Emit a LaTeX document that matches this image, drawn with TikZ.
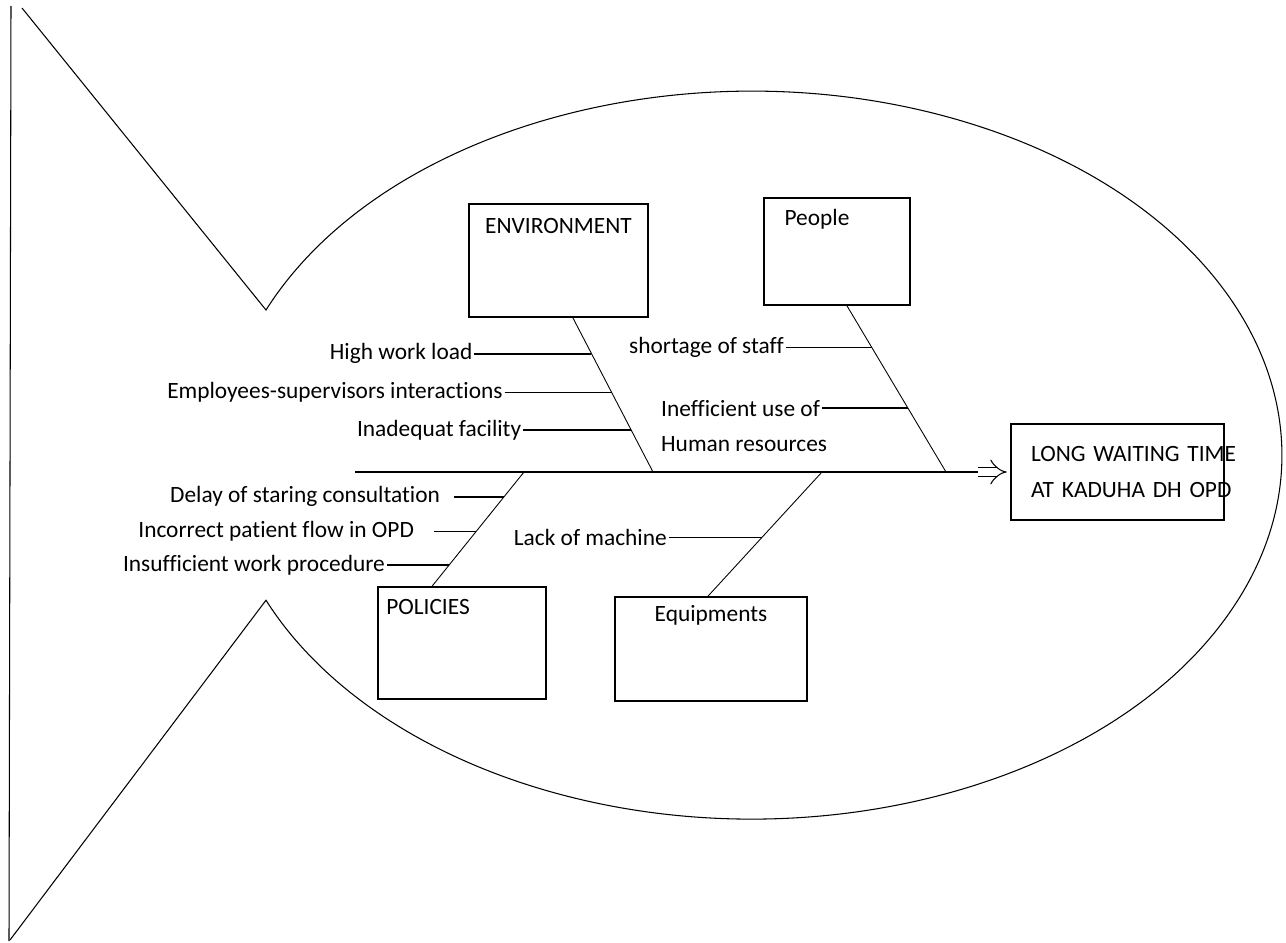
\documentclass[tikz,border=0pt]{standalone}
\usepackage{fontspec}
\setmainfont{Carlito}[Ligatures=NoCommon]
\usetikzlibrary{calc,arrows.meta}
\tikzset{
  catbox/.style={draw, line width=1pt, inner sep=0pt},
  boxtitle/.style={inner sep=0pt},
  cause/.style={inner sep=1pt},
  bone/.style={line width=0.5pt},
  rib/.style={line width=1pt},
  fishline/.style={line width=0.6pt},
}
\begin{document}
\begin{tikzpicture}[x=0.02cm, y=-0.02cm, font=\fontsize{13.3}{21}\selectfont]
      \useasboundingbox (0,0) rectangle (1286,943);
      \draw[fishline] (11,6) -- (9,941);
      \draw[fishline] (22,8) -- (266,310)
        arc[start angle=156.5, end angle=-156.5, x radius=10.6cm, y radius=7.28cm]
        -- (10,940);
      \node[catbox, minimum width=3.58cm, minimum height=2.26cm,
        label={[boxtitle, anchor=base, yshift=-17pt]north:ENVIRONMENT}] (env) at (558.5,260.5) {};
      \node[catbox, minimum width=2.92cm, minimum height=2.14cm,
        label={[boxtitle, anchor=base west, xshift=12pt, yshift=-16pt]north west:People}] (people) at (837,251.5) {};
      \node[catbox, minimum width=3.36cm, minimum height=2.24cm,
        label={[boxtitle, anchor=base west, xshift=5pt, yshift=-16.4pt]north west:POLICIES}] (pol) at (462,643) {};
      \node[catbox, minimum width=3.84cm, minimum height=2.08cm,
        label={[boxtitle, anchor=base, yshift=-14.7pt]north:Equipments}] (equip) at (711,649) {};
      \node[catbox, minimum width=4.26cm, minimum height=1.92cm, inner xsep=0.4cm,
        text width=3.46cm, align=left] (effect) at (1117.5,472)
        {\mbox{LONG WAITING TIME}\\\mbox{AT KADUHA DH OPD}};
      \coordinate (tail) at (355,472);
      \coordinate (head) at (978,472);
      \coordinate (poljoin) at (524,472);
      \coordinate (envjoin) at (653,472);
      \coordinate (equipjoin) at (822,472);
      \coordinate (peoplejoin) at (946,472);
      \draw[rib] (tail) -- (head);
      \draw[double, double distance=4.5pt, line width=0.6pt, -{Implies}, shorten >=2pt] (head) -- (effect);
      \coordinate (envtop) at ([xshift=8.2pt]env.south);
      \coordinate (peopletop) at ([xshift=5.7pt]people.south);
      \coordinate (poltop) at ([xshift=-17pt]pol.north);
      \coordinate (equiptop) at ([xshift=-1.7pt]equip.north);
      \draw[bone] (envtop) -- (envjoin);
      \draw[bone] (peopletop) -- (peoplejoin);
      \draw[bone] (poljoin) -- (poltop);
      \draw[bone] (equipjoin) -- (equiptop);
      \coordinate (e1) at ($(envtop)!0.232!(envjoin)$);
      \coordinate (e2) at ($(envtop)!0.484!(envjoin)$);
      \coordinate (e3) at ($(envtop)!0.729!(envjoin)$);
      \coordinate (p1) at ($(peopletop)!0.251!(peoplejoin)$);
      \coordinate (p2) at ($(peopletop)!0.617!(peoplejoin)$);
      \coordinate (q1) at ($(poljoin)!0.217!(poltop)$);
      \coordinate (q2) at ($(poljoin)!0.522!(poltop)$);
      \coordinate (q3) at ($(poljoin)!0.817!(poltop)$);
      \coordinate (r1) at ($(equipjoin)!0.528!(equiptop)$);
      \node[cause, anchor=east] (hwl) at ($(e1)+(-117,0)$) {High work load};
      \node[cause, anchor=east] (esi) at ($(e2)+(-107,0)$) {Employees-supervisors interactions};
      \node[cause, anchor=east] (fac) at ($(e3)+(-108,0)$) {Inadequat facility};
      \node[cause, anchor=east] (staff) at ($(p1)+(-86,0)$) {shortage of staff};
      \node[cause, anchor=east] (ineff) at ($(p2)+(-86,0)$) {Inefficient use of};
      \node[cause, anchor=base west] (hr) at ($(ineff.base west)+(0,35)$) {Human resources};
      \node[cause, anchor=east] (delay) at ($(q1)+(-62,0)$) {Delay of staring consultation};
      \node[cause, anchor=east] (flow) at ($(q2)+(-60,0)$) {Incorrect patient flow in OPD};
      \node[cause, anchor=east] (proc) at ($(q3)+(-62,0)$) {Insufficient work procedure};
      \node[cause, anchor=east] (mach) at ($(r1)+(-93,0)$) {Lack of machine};
      \draw[rib] (hwl) -- (e1);
      \draw[rib] (esi) -- (e2);
      \draw[rib] (fac) -- (e3);
      \draw[rib] (staff) -- (p1);
      \draw[rib] (ineff) -- (p2);
      \draw[rib, shorten <=7pt] (delay) -- (q1);
      \draw[rib, shorten <=10pt] (flow) -- (q2);
      \draw[rib] (proc) -- (q3);
      \draw[rib] (mach) -- (r1);
    \end{tikzpicture}
\end{document}
